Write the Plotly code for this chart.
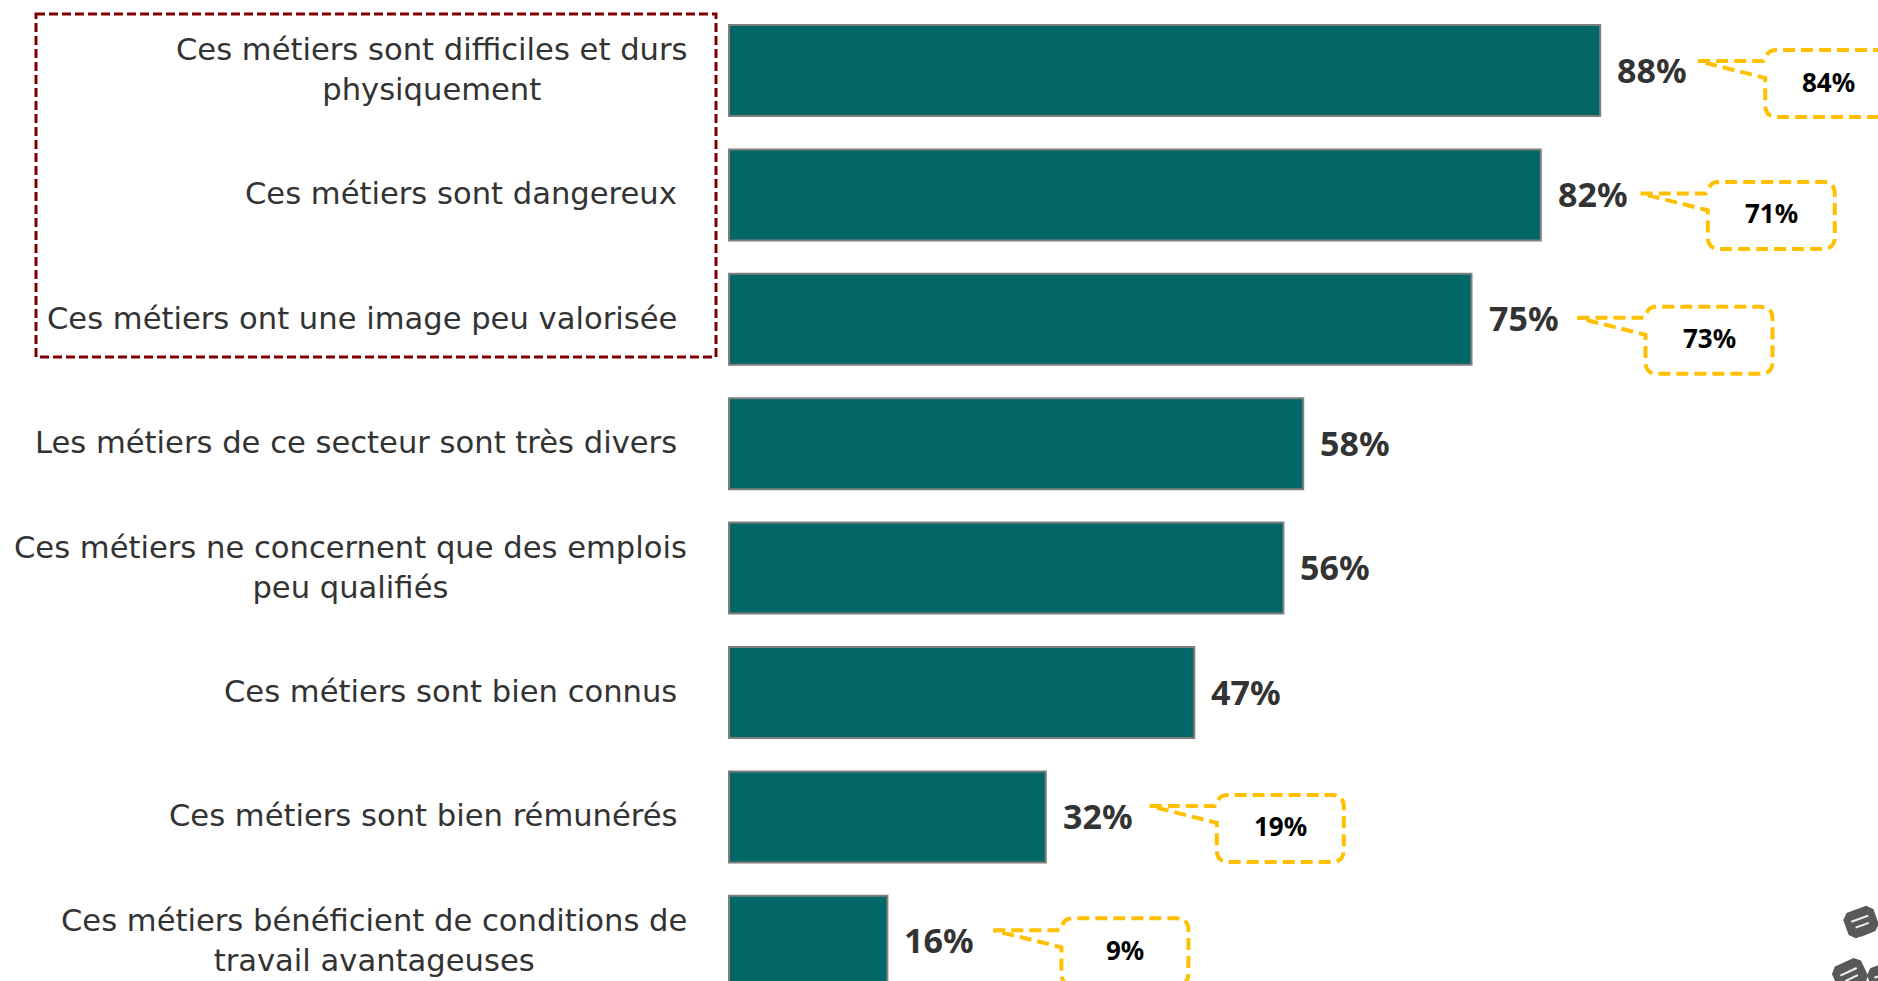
import math
import plotly.graph_objects as go

# ---- data ----
categories = [
    "Ces métiers sont difficiles et durs<br>physiquement",
    "Ces métiers sont dangereux",
    "Ces métiers ont une image peu valorisée",
    "Les métiers de ce secteur sont très divers",
    "Ces métiers ne concernent que des emplois<br>peu qualifiés",
    "Ces métiers sont bien connus",
    "Ces métiers sont bien rémunérés",
    "Ces métiers bénéficient de conditions de<br>travail avantageuses",
]
values = [88, 82, 75, 58, 56, 47, 32, 16]
comparison = [84, 71, 73, None, None, None, 19, 9]

# ---- layout constants (pixels of the 1878x981 page) ----
W, H = 1878, 981
ZERO_X, PX_PER_PCT = 729, 9.9
FIRST_Y, PX_PER_ROW = 70.5, 124.4
TEAL, EDGE, GOLD, RED, INK = "#006666", "#7F7F7F", "#FFC000", "#7F0000", "#333333"
FONT = "Noto Sans"
LABEL_FONT = "DejaVu Sans"

# offset of each callout from its bar end: tip dx, tip dy, box dx, box top dy
callout_offsets = {
    0: (98, -9.5, 165, -20.5),
    1: (100, -1.5, 167, -13),
    2: (106, -1.5, 174, -12.5),
    6: (104, -11, 171, -22),
    7: (106, -11, 174, -23),
}
BOX_W, BOX_H, RAD = 127, 67, 12

xr = [-ZERO_X / PX_PER_PCT, (W - ZERO_X) / PX_PER_PCT]
yr = [(H - FIRST_Y) / PX_PER_ROW, -FIRST_Y / PX_PER_ROW]
rows = list(range(len(values)))

fig = go.Figure(go.Bar(
    x=values, y=rows, orientation="h", width=91 / PX_PER_ROW,
    marker=dict(color=TEAL, line=dict(color=EDGE, width=2)),
    hoverinfo="skip",
))

shapes, annotations = [], []

# category labels
for r, label in zip(rows, categories):
    annotations.append(dict(
        x=0, y=r, xref="x", yref="y", text=label, showarrow=False,
        xanchor="right", yanchor="middle", align="center",
        xshift=-40 if "<br>" in label else -50, yshift=1,
        font=dict(family=LABEL_FONT, size=30.6, color=INK),
    ))

# value labels
for r, v in zip(rows, values):
    annotations.append(dict(
        x=v, y=r, xref="x", yref="y", text=f"<b>{v}%</b>", showarrow=False,
        xanchor="left", yanchor="middle", xshift=15, yshift=1,
        font=dict(family=FONT, size=34, color=INK),
    ))

# callouts
for r, c in enumerate(comparison):
    if c is None:
        continue
    tdx, tdy, bdx, bdy = callout_offsets[r]
    v = values[r]
    X = lambda d: v + d / PX_PER_PCT
    Y = lambda d: r + d / PX_PER_ROW
    l, rt, t, b = bdx, bdx + BOX_W, bdy, bdy + BOX_H
    pts = [
        f"M {X(tdx)} {Y(tdy)}",
        f"L {X(l - 2)} {Y(tdy)}",
        f"L {X(l + 3)} {Y(t + 3)}",
        f"Q {X(l + 5)} {Y(t)} {X(l + RAD)} {Y(t)}",
        f"L {X(rt - RAD)} {Y(t)}",
        f"Q {X(rt)} {Y(t)} {X(rt)} {Y(t + RAD)}",
        f"L {X(rt)} {Y(b - RAD)}",
        f"Q {X(rt)} {Y(b)} {X(rt - RAD)} {Y(b)}",
        f"L {X(l + RAD)} {Y(b)}",
        f"Q {X(l)} {Y(b)} {X(l)} {Y(b - RAD)}",
        f"L {X(l)} {Y(tdy + 17)}",
        "Z",
    ]
    shapes.append(dict(
        type="path", xref="x", yref="y", path=" ".join(pts),
        line=dict(color=GOLD, width=4, dash="12px,6px"),
    ))
    annotations.append(dict(
        x=X(bdx + BOX_W / 2), y=Y(bdy + BOX_H / 2 - 2), xref="x", yref="y",
        text=f"<b>{c}%</b>", showarrow=False, xanchor="center", yanchor="middle",
        font=dict(family=FONT, size=26, color="#000000"),
    ))


def page(x, y):
    return x / W, 1 - y / H


# dashed frame around the first three labels
x0, y0 = page(36, 14)
x1, y1 = page(716, 357)
shapes.append(dict(type="rect", xref="paper", yref="paper", x0=x0, y0=y0, x1=x1, y1=y1,
                   line=dict(color=RED, width=3, dash="9px,4px")))


# decorative speech-bubble pictogram in the corner
def bubble(cx, cy, w, h, angle, tail):
    a = math.radians(angle)
    def rot(px, py):
        return page(cx + px * math.cos(a) - py * math.sin(a),
                    cy + px * math.sin(a) + py * math.cos(a))
    hw, hh, rd = w / 2, h / 2, 5
    corners = [(-hw + rd, -hh), (hw - rd, -hh), (hw, -hh + rd), (hw, hh - rd), (hw - rd, hh),
               tail, (-hw + 10, hh), (-hw + rd, hh), (-hw, hh - rd), (-hw, -hh + rd)]
    d = []
    for i, (px, py) in enumerate(corners):
        u, w2 = rot(px, py)
        d.append(("M" if i == 0 else "L") + f" {u} {w2}")
    shapes.append(dict(type="path", xref="paper", yref="paper", path=" ".join(d) + " Z",
                       fillcolor="#595959", line=dict(color="#595959", width=2)))
    for dy, half in ((-3.5, 9), (3.5, 7)):
        u0, v0 = rot(-half, dy)
        u1, v1 = rot(half, dy)
        shapes.append(dict(type="line", xref="paper", yref="paper", x0=u0, y0=v0, x1=u1, y1=v1,
                           line=dict(color="#F2F2F2", width=2)))


bubble(1861, 922, 30, 25, -20, (-4, 13))
bubble(1850, 975, 30, 26, -25, (30, 22))
bubble(1884, 978, 28, 26, -20, (0, 14))

fig.update_layout(
    width=W, height=H, margin=dict(l=0, r=0, t=0, b=0),
    paper_bgcolor="white", plot_bgcolor="white", showlegend=False,
    xaxis=dict(range=xr, visible=False, fixedrange=True),
    yaxis=dict(range=yr, visible=False, fixedrange=True),
    shapes=shapes, annotations=annotations,
)
fig.write_html("out.html", config={"displayModeBar": False},
               post_script="document.body.style.margin='0';document.body.style.overflow='hidden';")
